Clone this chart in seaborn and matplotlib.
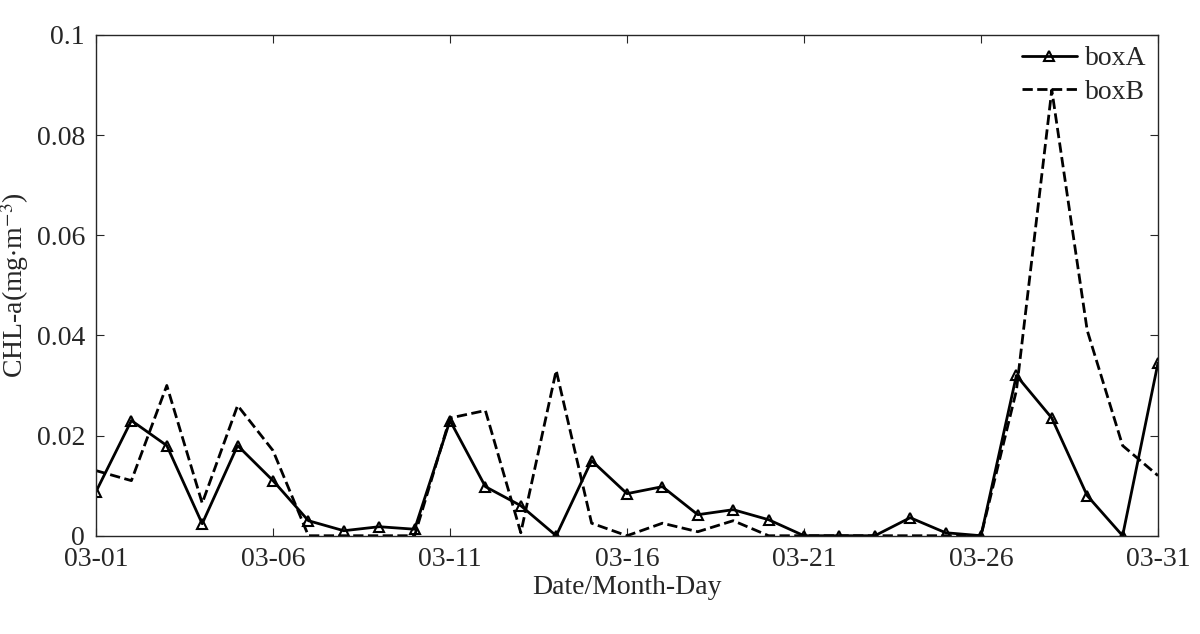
import numpy as np
import pandas as pd
import matplotlib
matplotlib.use("Agg")
import matplotlib.pyplot as plt
import seaborn as sns

days = list(range(1, 32))
box_a = [0.0088, 0.023, 0.018, 0.0024, 0.018, 0.011, 0.003, 0.001, 0.0018, 0.0013,
         0.023, 0.0098, 0.006, 0.0, 0.015, 0.0084, 0.0098, 0.0042, 0.0052, 0.0032,
         0.0, 0.0, 0.0, 0.0036, 0.0006, 0.0, 0.032, 0.0235, 0.008, 0.0, 0.0345]
box_b = [0.013, 0.011, 0.030, 0.0065, 0.026, 0.017, 0.0, 0.0, 0.0, 0.0,
         0.0235, 0.025, 0.0006, 0.033, 0.0025, 0.0, 0.0025, 0.0008, 0.003, 0.0,
         0.0, 0.0, 0.0, 0.0, 0.0, 0.0, 0.029, 0.089, 0.041, 0.018, 0.012]
tick_days = [1, 6, 11, 16, 21, 26, 31]
tick_labels = ["03-01", "03-06", "03-11", "03-16", "03-21", "03-26", "03-31"]

df = pd.DataFrame({"day": days, "boxA": box_a, "boxB": box_b})

sns.set_style("ticks")
plt.rcParams["font.family"] = ["Liberation Serif", "DejaVu Serif"]
plt.rcParams["mathtext.fontset"] = "stix"

fig, ax = plt.subplots(figsize=(12, 6.34), dpi=100)
sns.lineplot(data=df, x="day", y="boxA", ax=ax, color="black", linewidth=2,
             marker="^", markersize=7, markerfacecolor="none", markeredgecolor="black",
             markeredgewidth=1.5, label="boxA")
sns.lineplot(data=df, x="day", y="boxB", ax=ax, color="black", linewidth=2,
             linestyle="--", label="boxB")

ax.set_xlim(1, 31)
ax.set_ylim(0, 0.1)
ax.set_xticks(tick_days)
ax.set_xticklabels(tick_labels)
ax.set_yticks([0, 0.02, 0.04, 0.06, 0.08, 0.1])
ax.set_yticklabels(["0", "0.02", "0.04", "0.06", "0.08", "0.1"])
ax.tick_params(direction="in", labelsize=20, top=True, right=True, length=6, pad=8)
ax.set_xlabel("Date/Month-Day", fontsize=20, labelpad=2)
ax.set_ylabel(r"CHL-a(mg$\cdot$m$^{-3}$)", fontsize=20)
for s in ax.spines.values():
    s.set_linewidth(1)
ax.legend(loc="upper right", frameon=False, fontsize=20, handlelength=2.0,
          handletextpad=0.3, borderaxespad=0.0, labelspacing=0.3)
fig.subplots_adjust(left=0.08, right=0.965, top=0.945, bottom=0.155)
fig.savefig("out.png", dpi=100)
